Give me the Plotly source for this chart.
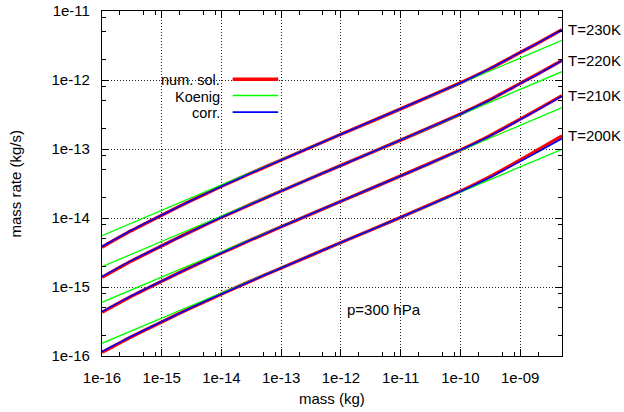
import math
import plotly.graph_objects as go

# ---- data (rates stored as log10 of kg/s readings) ----
temps = ["T=230K", "T=220K", "T=210K", "T=200K"]

mass = [1e-16, 3e-16, 1e-15, 3e-15, 1e-14, 3e-14, 1e-13, 1e-12, 1e-11, 1e-10, 3e-10, 1e-9, 2e-9, 5e-9]

log_num_sol_230 = [-14.423, -14.190, -13.959, -13.754, -13.541, -13.356, -13.159, -12.787, -12.418, -12.042, -11.845, -11.602, -11.462, -11.270]
log_num_sol_220 = [-14.860, -14.631, -14.404, -14.201, -13.990, -13.806, -13.609, -13.238, -12.871, -12.494, -12.295, -12.049, -11.908, -11.716]
log_num_sol_210 = [-15.367, -15.142, -14.917, -14.716, -14.507, -14.323, -14.127, -13.757, -13.390, -13.014, -12.814, -12.567, -12.422, -12.227]
log_num_sol_200 = [-15.947, -15.727, -15.506, -15.308, -15.101, -14.919, -14.724, -14.356, -13.990, -13.613, -13.411, -13.160, -13.010, -12.810]

log_corr_230 = [-14.413, -14.184, -13.956, -13.754, -13.541, -13.356, -13.159, -12.787, -12.418, -12.042, -11.843, -11.600, -11.462, -11.272]
log_corr_220 = [-14.850, -14.625, -14.401, -14.201, -13.990, -13.806, -13.609, -13.238, -12.871, -12.495, -12.298, -12.053, -11.913, -11.721]
log_corr_210 = [-15.357, -15.136, -14.914, -14.716, -14.507, -14.323, -14.127, -13.757, -13.390, -13.015, -12.818, -12.573, -12.430, -12.235]
log_corr_200 = [-15.937, -15.721, -15.503, -15.308, -15.101, -14.919, -14.724, -14.356, -13.990, -13.617, -13.421, -13.180, -13.040, -12.848]

mass_koenig = [1e-16, 1e-12, 5e-9]
log_koenig_230 = [-14.257, -12.786, -11.425]
log_koenig_220 = [-14.706, -13.238, -11.880]
log_koenig_210 = [-15.222, -13.756, -12.401]
log_koenig_200 = [-15.816, -14.355, -13.004]

x_ticks = [1e-16, 1e-15, 1e-14, 1e-13, 1e-12, 1e-11, 1e-10, 1e-9]
x_ticktext = ["1e-16", "1e-15", "1e-14", "1e-13", "1e-12", "1e-11", "1e-10", "1e-09"]
y_ticks = [1e-16, 1e-15, 1e-14, 1e-13, 1e-12, 1e-11]
y_ticktext = ["1e-16", "1e-15", "1e-14", "1e-13", "1e-12", "1e-11"]

legend_labels = ["num. sol.", "Koenig", "corr."]
x_title = "mass (kg)"
y_title = "mass rate (kg/s)"
pressure_label = "p=300 hPa"
pressure_mass, pressure_rate = 1.15e-12, 4.75e-16


def to_rate(logs):
    return [10.0 ** v for v in logs]


# ---- styling ----
RED, GREEN, BLUE = "#ff0000", "#00ff00", "#0000ff"
FONT = "Liberation Sans, Arial, Helvetica, sans-serif"
FS = 15

series = [
    (log_num_sol_230, log_koenig_230, log_corr_230),
    (log_num_sol_220, log_koenig_220, log_corr_220),
    (log_num_sol_210, log_koenig_210, log_corr_210),
    (log_num_sol_200, log_koenig_200, log_corr_200),
]

fig = go.Figure()
for name, (ns, kg, cr) in zip(temps, series):
    fig.add_trace(go.Scatter(x=mass, y=to_rate(ns), mode="lines", name=legend_labels[0] + " " + name,
                             line=dict(color=RED, width=3.4, shape="spline", smoothing=0.5),
                             showlegend=False))
    fig.add_trace(go.Scatter(x=mass_koenig, y=to_rate(kg), mode="lines", name=legend_labels[1] + " " + name,
                             line=dict(color=GREEN, width=1.3), showlegend=False))
    fig.add_trace(go.Scatter(x=mass, y=to_rate(cr), mode="lines", name=legend_labels[2] + " " + name,
                             line=dict(color=BLUE, width=1.6, shape="spline", smoothing=0.5),
                             showlegend=False))

# annotations on log axes take log10 coordinates
annotations = []
for name, (ns, kg, cr) in zip(temps, series):
    annotations.append(dict(x=math.log10(mass[-1]), y=ns[-1], xref="x", yref="y", text=name,
                            xanchor="left", yanchor="middle", xshift=4, showarrow=False,
                            font=dict(family=FONT, size=FS, color="black")))
annotations.append(dict(x=math.log10(pressure_mass), y=math.log10(pressure_rate), xref="x", yref="y",
                        text=pressure_label, xanchor="left", yanchor="middle", showarrow=False,
                        font=dict(family=FONT, size=FS, color="black")))
# axis titles
annotations.append(dict(x=0.5, y=-0.122, xref="paper", yref="paper", text=x_title,
                        xanchor="center", yanchor="middle", showarrow=False,
                        font=dict(family=FONT, size=FS, color="black")))
annotations.append(dict(x=-0.189, y=0.5, xref="paper", yref="paper", text=y_title, textangle=-90,
                        xanchor="center", yanchor="middle", showarrow=False,
                        font=dict(family=FONT, size=FS, color="black")))

# gnuplot-style key: text right-aligned, line sample on its right
key_y = [0.799, 0.752, 0.704]
key_colors = [RED, GREEN, BLUE]
key_widths = [3.4, 1.5, 1.6]
shapes = [dict(type="rect", xref="paper", yref="paper", x0=0.065, x1=0.404, y0=0.675, y1=0.829,
               fillcolor="white", line=dict(width=0), layer="between")]
for lab, yy, col, w in zip(legend_labels, key_y, key_colors, key_widths):
    annotations.append(dict(x=0.259, y=yy, xref="paper", yref="paper", text=lab,
                            xanchor="right", yanchor="middle", showarrow=False, borderpad=0,
                            font=dict(family=FONT, size=14.5, color="black")))
    shapes.append(dict(type="line", xref="paper", yref="paper", x0=0.284, x1=0.383,
                       y0=yy + 0.003, y1=yy + 0.003, line=dict(color=col, width=w)))

minor_mult = [2, 5, 8]
x_minor = [m * d for d in x_ticks for m in minor_mult]
y_minor = [m * d for d in y_ticks[:-1] for m in minor_mult]

axis_common = dict(
    type="log", showline=True, linecolor="black", linewidth=1.2, mirror="allticks",
    ticks="inside", ticklen=7, tickcolor="black", tickwidth=1, automargin=False,
    showgrid=True, gridcolor="#222222", griddash="1px,2px", gridwidth=1,
    zeroline=False, tickfont=dict(family=FONT, size=FS, color="black"),
)

fig.update_layout(
    width=624, height=412,
    margin=dict(l=102, r=62, t=11, b=56),
    paper_bgcolor="white", plot_bgcolor="white",
    showlegend=False,
    font=dict(family=FONT, size=FS, color="black"),
    xaxis=dict(axis_common, range=[-16, -8.2995], tickmode="array", tickvals=x_ticks,
               ticktext=x_ticktext, ticklabelstandoff=8,
               minor=dict(tickvals=x_minor, ticks="inside", ticklen=4, tickcolor="black", showgrid=False)),
    yaxis=dict(axis_common, range=[-16, -11], tickmode="array", tickvals=y_ticks,
               ticktext=y_ticktext, ticklabelstandoff=8,
               minor=dict(tickvals=y_minor, ticks="inside", ticklen=4, tickcolor="black", showgrid=False)),
    annotations=annotations,
    shapes=shapes,
)

# remove the page's default body margin so the figure sits at the window's top-left corner
fig.write_html("out.html", config={"displayModeBar": False},
               post_script="document.body.style.margin='0px';")
